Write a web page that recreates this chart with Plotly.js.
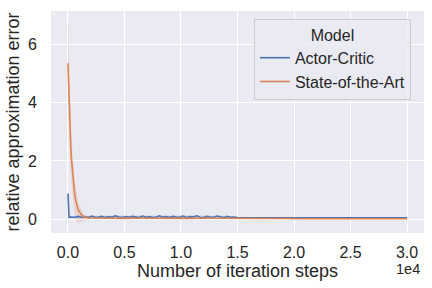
<!DOCTYPE html>
<html>
<head>
<meta charset="utf-8">
<script src="https://cdn.plot.ly/plotly-3.0.1.min.js"></script>
<style>html,body{margin:0;padding:0;background:#fff}#chart{width:432px;height:288px}</style>
</head>
<body>
<div id="chart"></div>
<script>
// Actor-Critic (blue)
const acSteps = [0,40,100,300,600,900,1200,1500,1800,2100,2400,2700,3000,3300,3600,3900,4200,4500,4800,5100,5400,5700,6000,6300,6600,6900,7200,7500,7800,8100,8400,8700,9000,9300,9600,9900,10200,10500,10800,11100,11400,11700,12000,12300,12600,12900,13200,13500,13800,14100,14400,14700,15000,16000,17000,18000,19000,20000,21000,22000,23000,24000,25000,26000,27000,28000,29000,30000];
const acMean = [0.88,0.09,0.07,
  0.08,0.06,0.1,0.07,0.09,0.06,0.11,0.07,0.08,0.1,
  0.06,0.09,0.07,0.12,0.08,0.06,0.09,0.07,0.1,0.08,
  0.06,0.11,0.07,0.09,0.06,0.08,0.12,0.07,0.09,0.06,
  0.1,0.08,0.07,0.11,0.06,0.09,0.08,0.12,0.07,0.06,
  0.1,0.08,0.07,0.11,0.09,0.06,0.1,0.07,0.08,0.06,
  0.05,0.055,0.05,0.05,0.055,0.05,0.05,0.05,0.055,0.05,0.05,0.05,0.05,0.055,0.05];
const acBandSteps = [0,40,100,2000,5000,8000,11000,14000,15000,30000];
const acUpper = [1.0,0.12,0.11,0.12,0.13,0.12,0.13,0.12,0.07,0.07];
const acLower = [0.76,0.05,0.04,0.03,0.03,0.04,0.03,0.03,0.035,0.035];

// State-of-the-Art (orange)
const sotaSteps = [0,50,100,150,200,250,300,400,500,600,700,800,900,1000,1200,1400,1600,1800,2000,2500,3000,4000,5000,6000,7000,8000,9000,10000,11000,12000,13000,14000,15000,17000,19000,21000,23000,25000,27000,30000];
const sotaMean = [5.35,4.6,3.95,3.4,2.9,2.5,2.1,1.6,1.18,0.85,0.62,0.46,0.34,0.26,0.15,0.09,0.065,0.05,0.045,0.04,0.035,
  0.04,0.03,0.035,0.03,0.04,0.03,0.035,0.03,0.035,0.03,0.03,0.025,
  0.025,0.025,0.02,0.025,0.02,0.02,0.02];
const sotaUpper = [6.85,6.0,5.2,4.5,3.9,3.35,2.9,2.2,1.7,1.3,1.0,0.78,0.6,0.47,0.3,0.19,0.13,0.09,0.07,0.06,0.05,
  0.055,0.045,0.05,0.045,0.055,0.045,0.05,0.045,0.05,0.045,0.045,0.04,
  0.035,0.035,0.03,0.035,0.03,0.03,0.03];
const sotaLower = [3.85,3.2,2.7,2.3,1.9,1.6,1.3,0.8,0.42,0.15,-0.02,-0.1,-0.13,-0.13,-0.09,-0.04,-0.01,0.005,0.015,0.02,0.02,
  0.025,0.015,0.02,0.015,0.025,0.015,0.02,0.015,0.02,0.015,0.015,0.01,
  0.015,0.015,0.01,0.015,0.01,0.01,0.01];

const xTickVals = [0,5000,10000,15000,20000,25000,30000];
const xTickText = ['0.0','0.5','1.0','1.5','2.0','2.5','3.0'];
const yTickVals = [0,2,4,6];
const yTickText = ['0','2','4','6'];

const blue = '#4c72b0', orange = '#dd8452';
const FONT = '"Liberation Sans", Arial, sans-serif';
const TXT = '#262626';

const traces = [
  {x: acBandSteps, y: acUpper, mode:'lines', line:{width:0, color:blue}, showlegend:false, hoverinfo:'skip'},
  {x: acBandSteps, y: acLower, mode:'lines', line:{width:0, color:blue}, fill:'tonexty', fillcolor:'rgba(76,114,176,0.2)', showlegend:false, hoverinfo:'skip'},
  {x: sotaSteps, y: sotaUpper, mode:'lines', line:{width:0, color:orange}, showlegend:false, hoverinfo:'skip'},
  {x: sotaSteps, y: sotaLower, mode:'lines', line:{width:0, color:orange}, fill:'tonexty', fillcolor:'rgba(221,132,82,0.2)', showlegend:false, hoverinfo:'skip'},
  {x: acSteps, y: acMean, mode:'lines', name:'Actor-Critic', line:{width:1.6, color:blue}},
  {x: sotaSteps, y: sotaMean, mode:'lines', name:'State-of-the-Art', line:{width:1.6, color:orange}}
];

const layout = {
  width:432, height:288,
  margin:{l:50.5, r:7.7, t:11, b:55},
  paper_bgcolor:'#ffffff', plot_bgcolor:'#eaeaf2',
  font:{family:FONT, color:TXT, size:16},
  xaxis:{range:[-1500,31500], tickvals:xTickVals, ticktext:xTickText, showgrid:true, gridcolor:'#ffffff', gridwidth:1,
    zeroline:false, showline:false, ticks:'outside', ticklen:5, tickcolor:'rgba(0,0,0,0)',
    tickfont:{size:16, color:TXT}, title:{text:'Number of iteration steps', font:{size:18, color:TXT}, standoff:0}},
  yaxis:{range:[-0.47,7.14], tickvals:yTickVals, ticktext:yTickText, showgrid:true, gridcolor:'#ffffff', gridwidth:1,
    zeroline:false, showline:false, ticks:'outside', ticklen:10, tickcolor:'rgba(0,0,0,0)',
    tickfont:{size:16, color:TXT}, title:{text:'relative approximation error', font:{size:18, color:TXT}, standoff:3}},
  legend:{x:0.965, y:0.964, xanchor:'right', yanchor:'top', bgcolor:'rgba(234,234,242,0.8)', bordercolor:'#cccccc', borderwidth:1,
    traceorder:'normal',
    font:{size:16, color:TXT}, title:{text:'Model', side:'top center', font:{size:16, color:TXT}}},
  annotations:[{text:'1e4', xref:'paper', yref:'paper', x:0.995, y:-0.16, xanchor:'right', yanchor:'middle', showarrow:false, font:{size:14.5, color:TXT}}],
  showlegend:true
};

Plotly.newPlot('chart', traces, layout, {displayModeBar:false, staticPlot:true});
</script>
</body>
</html>
